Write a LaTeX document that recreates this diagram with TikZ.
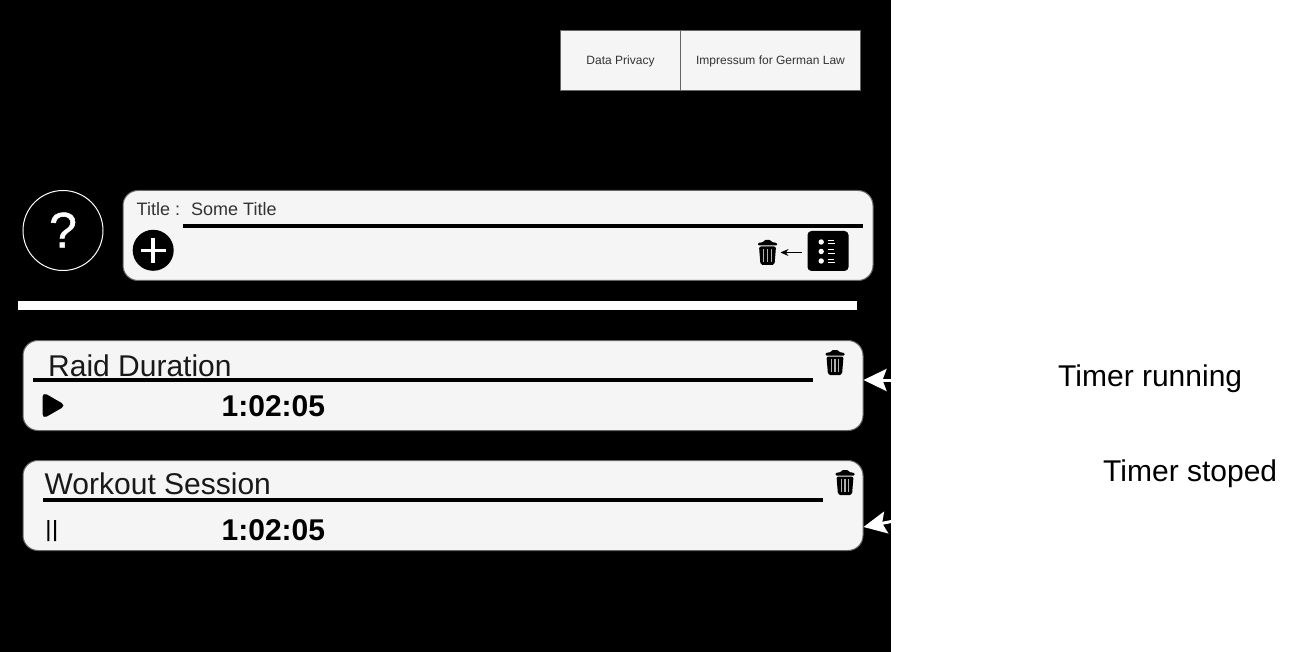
\documentclass[tikz,border=0pt]{standalone}
\usepackage{fontspec}
\setmainfont{Liberation Sans}
\newfontfamily\helpfont[FakeBold=1]{Liberation Sans}
\usetikzlibrary{arrows.meta}
\definecolor{panelgray}{HTML}{F5F5F5}
\definecolor{edgegray}{HTML}{666666}
\definecolor{inkgray}{HTML}{333333}
\definecolor{slitgray}{HTML}{B0B0B0}
\newcommand{\fs}[1]{\fontsize{#1}{#1}\selectfont}
\tikzset{
  panel/.style={fill=panelgray,draw=edgegray,line width=1pt,rounded corners=15pt},
  linkcell/.style={fill=panelgray,draw=edgegray,line width=0.8pt,minimum height=60pt,inner sep=0pt,text=inkgray,font=\fs{12}},
  rulebar/.style={line width=4pt,black},
  plain/.style={inner sep=0pt,anchor=base west,text=black},
  bigtext/.style={plain,text=black!90,font=\fs{30}},
  smalltext/.style={plain,text=inkgray,font=\fs{18}},
  timertext/.style={plain,font=\bfseries\fs{30}},
  whitearrow/.style={white,line width=3pt,-{Stealth[length=23pt,width=22pt,inset=4pt]}},
  trash/.pic={
    \fill[black,rounded corners=1pt] (-9.5,-7) -- (-9.5,-9.5) -- (-4,-10.5) -- (-3,-12.5) -- (3,-12.5) -- (4,-10.5) -- (9.5,-9.5) -- (9.5,-7) -- cycle;
    \fill[black,rounded corners=2pt] (-8.5,-6) -- (8.5,-6) -- (7,12.5) -- (-7,12.5) -- cycle;
    \foreach \q in {-3.7,0,3.7}
      \fill[slitgray] (\q-0.6,-3.5) rectangle (\q+0.6,9.5);
  }
}
\begin{document}
\begin{tikzpicture}[x=1pt,y=-1pt]
\useasboundingbox (0,0) rectangle (1301,652);
\fill[white] (0,0) rectangle (1301,652);
\fill[black] (0,0) rectangle (891,652);
% top links
\node[linkcell,minimum width=120pt,text depth=0pt,text height=9pt] (privacy) at (620.5,60.5) {Data Privacy};
\node[linkcell,minimum width=180pt,text depth=0pt,text height=9pt] (impressum) at (770.5,60.5) {Impressum for German Law};
% help circle
\node[circle,draw=white,line width=1pt,fill=black,minimum size=80pt,inner sep=0pt] (help) at (63,230.5) {};
\node[inner sep=0pt,text=white,font=\helpfont\fs{50}] (helpmark) at (63,230) {?};
% title panel
\draw[panel] (123,190.5) rectangle (873,280.5);
\node[smalltext] (titlelabel) at (136.5,215.5) {Title :};
\node[smalltext] (titlevalue) at (191,215.5) {Some Title};
\fill[rulebar] (183,224) rectangle (863,228);
\node[circle,fill=black,minimum size=41pt,inner sep=0pt] (addbtn) at (153.2,250.3) {};
\draw[white,line width=3.5pt] (140.7,250.3) -- (165.7,250.3) (153.2,237.8) -- (153.2,262.8);
\pic at (767.5,252.5) {trash};
\node[fill=black,rounded corners=4pt,minimum width=41pt,minimum height=40pt,inner sep=0pt] (listbtn) at (828,251) {};
\foreach \yy in {242,251.5,261}{
  \fill[white] (821.2,\yy) circle (2.7);
  \draw[white,line width=0.9pt] (827.5,\yy-2) -- (834,\yy-2) (827.5,\yy+1.6) -- (835,\yy+1.6);
}
\coordinate (arrowstart) at (801.5,252.5);
\coordinate (arrowend) at (780.5,252.5);
\draw[black,line width=1pt,-{Stealth[length=8pt,width=7pt]}] (arrowstart) -- (arrowend);
% divider
\fill[white] (18,301) rectangle (857,310);
% raid panel
\draw[panel] (23,340.5) rectangle (863,430.5);
\node[bigtext] (raid) at (48,376) {Raid Duration};
\fill[rulebar] (33,378) rectangle (813,382);
\pic at (835,362.5) {trash};
\fill[black,rounded corners=5pt] (42.5,392) -- (42.5,419) -- (66,405.5) -- cycle;
\node[timertext] (timerone) at (221.5,416) {1:02:05};
\coordinate (runfrom) at (919,380);
\coordinate (runto) at (863.5,380);
\draw[whitearrow] (runfrom) -- (runto);
% workout panel
\draw[panel] (23,460.5) rectangle (863,550.5);
\node[bigtext] (workout) at (44.5,494.5) {Workout Session};
\fill[rulebar] (43,498) rectangle (823,502);
\pic at (845,482.5) {trash};
\fill[black] (47.3,520) rectangle (49.3,541) (54,520) rectangle (56,541);
\node[timertext] (timertwo) at (221.5,540.5) {1:02:05};
\coordinate (stopfrom) at (919,516);
\coordinate (stopto) at (863.5,527);
\draw[whitearrow] (stopfrom) -- (stopto);
% labels
\node[bigtext,text=black] (running) at (1058,386.5) {Timer running};
\node[bigtext,text=black] (stopped) at (1103,481) {Timer stoped};
\end{tikzpicture}
\end{document}
